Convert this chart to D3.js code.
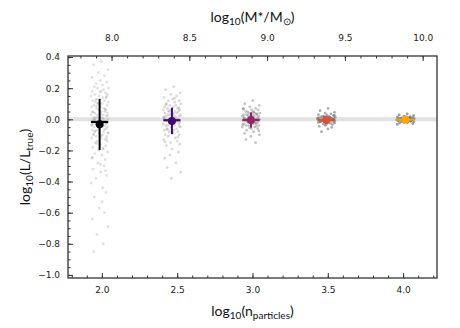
<!DOCTYPE html>
<html>
<head>
<meta charset="utf-8">
<script src="https://cdn.jsdelivr.net/npm/d3@7"></script>
<style>
  body { margin: 0; background: #fff; }
  svg { display: block; }
</style>
</head>
<body>
<div id="chart"></div>
<script>
// group positions (log10 n_particles) and summary stats
const groupX = [1.985, 2.465, 2.99, 3.49, 4.015];
const meanY = [-0.032, -0.011, -0.004, -0.005, -0.002];
const medianY = [-0.017, -0.006, -0.004, -0.005, -0.002];
const upperY = [0.13, 0.075, 0.045, 0.023, 0.01];
const lowerY = [-0.197, -0.095, -0.054, -0.03, -0.012];
const xHalfWidth = [0.057, 0.057, 0.057, 0.057, 0.06];
const colorStops = [0.0, 0.2, 0.4, 0.6, 0.8];

// individual realisations (grey cloud), one list per group
const cloud20 = [0.37, 0.35, 0.32, 0.30, 0.28, 0.27, 0.25, 0.24, 0.23, 0.22, 0.21, 0.20, 0.20, 0.19, 0.18, 0.18, 0.17, 0.16,
  0.16, 0.15, 0.15, 0.14, 0.14, 0.13, 0.13, 0.12, 0.12, 0.11, 0.11, 0.10, 0.10, 0.09, 0.09, 0.08, 0.08, 0.07, 0.07, 0.06,
  0.06, 0.05, 0.05, 0.05, 0.04, 0.04, 0.03, 0.03, 0.03, 0.02, 0.02, 0.01, 0.01, 0.01, 0.00, 0.00, 0.00, -0.01, -0.01,
  -0.01, -0.02, -0.02, -0.02, -0.03, -0.03, -0.03, -0.04, -0.04, -0.04, -0.05, -0.05, -0.05, -0.06, -0.06, -0.07, -0.07,
  -0.08, -0.08, -0.09, -0.09, -0.10, -0.10, -0.11, -0.11, -0.12, -0.12, -0.13, -0.14, -0.14, -0.15, -0.16, -0.17, -0.18,
  -0.19, -0.20, -0.21, -0.22, -0.23, -0.25, -0.26, -0.28, -0.30, -0.32, -0.34, -0.36, -0.38, -0.41, -0.44, -0.47, -0.50,
  -0.53, -0.57, -0.60, -0.64, -0.69, -0.74, -0.80, -0.85,
  0.175, 0.145, 0.125, 0.105, 0.085, 0.065, 0.045, 0.035, 0.025, 0.015, 0.005, -0.005, -0.015, -0.025, -0.035, -0.045,
  -0.055, -0.065, -0.075, -0.085, -0.095, -0.105, -0.125, -0.155, -0.185, -0.245, -0.29, -0.33];
const cloud25 = [0.21, 0.19, 0.17, 0.16, 0.15, 0.14, 0.13, 0.12, 0.12, 0.11, 0.10, 0.10, 0.09, 0.09, 0.08, 0.08, 0.07, 0.07,
  0.06, 0.06, 0.06, 0.05, 0.05, 0.05, 0.04, 0.04, 0.04, 0.03, 0.03, 0.03, 0.02, 0.02, 0.02, 0.01, 0.01, 0.01, 0.00, 0.00,
  0.00, 0.00, -0.01, -0.01, -0.01, -0.02, -0.02, -0.02, -0.03, -0.03, -0.03, -0.04, -0.04, -0.04, -0.05, -0.05, -0.06,
  -0.06, -0.07, -0.07, -0.08, -0.08, -0.09, -0.10, -0.10, -0.11, -0.12, -0.13, -0.14, -0.15, -0.16, -0.17, -0.19, -0.21,
  -0.23, -0.25, -0.28, -0.31, -0.34, -0.38,
  0.135, 0.095, 0.075, 0.055, 0.035, 0.015, -0.005, -0.025, -0.045, -0.065, -0.085, -0.115, -0.145];
const cloud30 = [0.12, 0.10, 0.09, 0.08, 0.07, 0.07, 0.06, 0.06, 0.05, 0.05, 0.05, 0.04, 0.04, 0.04, 0.03, 0.03, 0.03, 0.03,
  0.02, 0.02, 0.02, 0.02, 0.01, 0.01, 0.01, 0.01, 0.00, 0.00, 0.00, 0.00, 0.00, -0.01, -0.01, -0.01, -0.01, -0.02, -0.02,
  -0.02, -0.02, -0.03, -0.03, -0.03, -0.04, -0.04, -0.04, -0.05, -0.05, -0.06, -0.06, -0.07, -0.08, -0.09, -0.10, -0.11,
  -0.13, -0.15,
  0.065, 0.045, 0.035, 0.025, 0.015, 0.005, -0.005, -0.015, -0.025, -0.035, -0.045, -0.055, -0.075];
const cloud35 = [0.07, 0.055, 0.045, 0.04, 0.035, 0.03, 0.028, 0.024, 0.021, 0.018, 0.016, 0.014, 0.012, 0.01, 0.009, 0.007,
  0.006, 0.004, 0.003, 0.002, 0.001, 0.0, -0.001, -0.002, -0.004, -0.005, -0.006, -0.008, -0.009, -0.011, -0.013, -0.015,
  -0.017, -0.02, -0.023, -0.026, -0.03, -0.034, -0.039, -0.045, -0.052, -0.062, -0.08,
  0.026, 0.019, 0.013, 0.008, 0.003, -0.003, -0.007, -0.012, -0.018, -0.024, -0.032];
const cloud40 = [0.035, 0.028, 0.024, 0.02, 0.017, 0.015, 0.013, 0.011, 0.009, 0.008, 0.006, 0.005, 0.004, 0.003, 0.002,
  0.001, 0.0, -0.001, -0.002, -0.003, -0.004, -0.005, -0.006, -0.007, -0.009, -0.01, -0.012, -0.014, -0.016, -0.018,
  -0.021, -0.024, -0.028, -0.033,
  0.016, 0.01, 0.006, 0.002, -0.002, -0.006, -0.011, -0.017];
const clouds = [cloud20, cloud25, cloud30, cloud35, cloud40];

// horizontal scatter of each realisation around its group (x units)
const jitter = [0.012, -0.041, 0.055, -0.008, 0.031, -0.052, 0.004, 0.047, -0.023, 0.018, -0.036, 0.059, -0.014, 0.026,
  -0.049, 0.009, 0.038, -0.030, 0.051, -0.003, -0.057, 0.021, 0.044, -0.017, 0.002, -0.045, 0.033, -0.026, 0.057, -0.011,
  0.015, -0.038, 0.049, -0.054, 0.007, 0.028, -0.020, 0.041, -0.006, -0.047, 0.036, 0.011, -0.032, 0.053, -0.015, 0.024,
  -0.058, 0.003, 0.045, -0.028, 0.017, -0.042, 0.056, -0.001, -0.034, 0.030, -0.050, 0.013, 0.039, -0.019, 0.006, -0.044,
  0.048, -0.025, 0.022, -0.055, 0.034, -0.009, 0.052, -0.037, 0.001, 0.043, -0.013, -0.048, 0.027, -0.031, 0.058, -0.004,
  0.019, -0.040, 0.046, -0.022, 0.010, -0.053, 0.035, -0.016, 0.050, -0.029, 0.005, 0.040, -0.046, 0.023, -0.007, 0.054,
  -0.033, 0.014, -0.051, 0.037, -0.012, 0.029, -0.043, 0.008, 0.047, -0.024, -0.056, 0.020, 0.042, -0.035, 0.016, -0.002,
  0.032, -0.048, 0.055, -0.018, 0.025, -0.039, 0.003, 0.044, -0.027, -0.010,
  -0.021, 0.037, -0.044, 0.008, 0.051, -0.013, 0.026, -0.035, 0.002, 0.043, -0.052, 0.017, -0.006, 0.032, -0.027, 0.054,
  -0.040, 0.011, 0.046, -0.018, 0.023, -0.048, 0.005, 0.039, -0.031, 0.014, -0.009, 0.049];

const xTicks = [2.0, 2.5, 3.0, 3.5, 4.0];
const topTicks = [8.0, 8.5, 9.0, 9.5, 10.0];
const yTicks = [-1.0, -0.8, -0.6, -0.4, -0.2, 0.0, 0.2, 0.4];

const width = 460, height = 328;
const margin = {top: 56, right: 23, bottom: 50, left: 68};
const plotW = width - margin.left - margin.right;
const plotH = height - margin.top - margin.bottom;
const cloudOpacity = [0.2, 0.25, 0.38, 0.55, 0.65];

const svg = d3.select("#chart").append("svg")
    .attr("width", width)
    .attr("height", height);

const x = d3.scaleLinear().domain([1.775, 4.225]).range([margin.left, margin.left + plotW]);
const xTop = d3.scaleLinear().domain([7.72, 10.092]).range([margin.left, margin.left + plotW]);
const y = d3.scaleLinear().domain([-1.02, 0.407]).range([margin.top + plotH, margin.top]);

svg.append("defs").append("clipPath").attr("id", "plot-clip")
    .append("rect")
    .attr("x", margin.left).attr("y", margin.top)
    .attr("width", plotW).attr("height", plotH);

const plot = svg.append("g").attr("clip-path", "url(#plot-clip)");

// zero reference band
plot.append("line")
    .attr("x1", margin.left).attr("x2", margin.left + plotW)
    .attr("y1", y(0)).attr("y2", y(0))
    .attr("stroke", "#e2e2e2")
    .attr("stroke-width", 4);

// grey clouds
clouds.forEach((vals, g) => {
    plot.append("g")
        .selectAll("circle")
        .data(vals)
        .enter()
        .append("circle")
        .attr("cx", (d, i) => x(groupX[g] + jitter[i % jitter.length]))
        .attr("cy", d => y(d))
        .attr("r", 1.4)
        .attr("fill", "#6a6a6a")
        .attr("fill-opacity", cloudOpacity[g]);
});

// error bars + markers
groupX.forEach((gx, g) => {
    const c = d3.interpolateInferno(colorStops[g]);
    const eb = plot.append("g");
    eb.append("line")
        .attr("x1", x(gx)).attr("x2", x(gx))
        .attr("y1", y(upperY[g])).attr("y2", y(lowerY[g]))
        .attr("stroke", c).attr("stroke-width", 2);
    eb.append("line")
        .attr("x1", x(gx - xHalfWidth[g])).attr("x2", x(gx + xHalfWidth[g]))
        .attr("y1", y(medianY[g])).attr("y2", y(medianY[g]))
        .attr("stroke", c).attr("stroke-width", 2.2);
    eb.append("circle")
        .attr("cx", x(gx)).attr("cy", y(meanY[g]))
        .attr("r", 4)
        .attr("fill", c);
});

// axes
const axisColor = "#333";
function styleAxis(g) {
    g.select(".domain").remove();
    g.selectAll(".tick line").attr("stroke", axisColor).attr("stroke-width", 1);
    g.selectAll(".tick text")
        .attr("fill", "#222")
        .style("font-family", "'DejaVu Sans', sans-serif")
        .style("font-size", "9px");
}
const fmt = d3.format(".1f");

svg.append("g")
    .attr("transform", `translate(0,${margin.top + plotH})`)
    .call(d3.axisBottom(x).tickValues(xTicks).tickFormat(fmt).tickSize(-5).tickPadding(9))
    .call(styleAxis);
svg.append("g")
    .attr("transform", `translate(0,${margin.top + plotH})`)
    .call(d3.axisBottom(x).tickValues(d3.range(1.8, 4.21, 0.1)).tickFormat("").tickSize(-2.5))
    .call(styleAxis);

svg.append("g")
    .attr("transform", `translate(0,${margin.top})`)
    .call(d3.axisTop(xTop).tickValues(topTicks).tickFormat(fmt).tickSize(-5).tickPadding(15))
    .call(styleAxis);
svg.append("g")
    .attr("transform", `translate(0,${margin.top})`)
    .call(d3.axisTop(xTop).tickValues(d3.range(7.8, 10.05, 0.1)).tickFormat("").tickSize(-2.5))
    .call(styleAxis);

svg.append("g")
    .attr("transform", `translate(${margin.left},0)`)
    .call(d3.axisLeft(y).tickValues(yTicks).tickFormat(fmt).tickSize(-5).tickPadding(8))
    .call(styleAxis);
svg.append("g")
    .attr("transform", `translate(${margin.left},0)`)
    .call(d3.axisLeft(y).tickValues(d3.range(-1.0, 0.41, 0.05)).tickFormat("").tickSize(-2.5))
    .call(styleAxis);

// frame
svg.append("rect")
    .attr("x", margin.left).attr("y", margin.top)
    .attr("width", plotW).attr("height", plotH)
    .attr("fill", "none")
    .attr("stroke", axisColor)
    .attr("stroke-width", 1.3);

// axis titles with subscripts
function title(parts, tx, ty, rotate) {
    const t = svg.append("text")
        .attr("text-anchor", "middle")
        .attr("fill", "#111")
        .style("font-family", "Lato, sans-serif")
        .style("font-size", "14px")
        .attr("transform", `translate(${tx},${ty})` + (rotate ? " rotate(-90)" : ""));
    parts.forEach(p => {
        const s = t.append("tspan").text(p.t);
        if (p.sub) s.attr("baseline-shift", "-25%").style("font-size", "10px");
    });
}
title([{t: "log"}, {t: "10", sub: true}, {t: "(M*/M"}, {t: "⊙", sub: true}, {t: ")"}],
    margin.left + plotW / 2, 22, false);
title([{t: "log"}, {t: "10", sub: true}, {t: "(n"}, {t: "particles", sub: true}, {t: ")"}],
    margin.left + plotW / 2, 316, false);
title([{t: "log"}, {t: "10", sub: true}, {t: "(L/L"}, {t: "true", sub: true}, {t: ")"}],
    30, margin.top + plotH / 2, true);
</script>
</body>
</html>
